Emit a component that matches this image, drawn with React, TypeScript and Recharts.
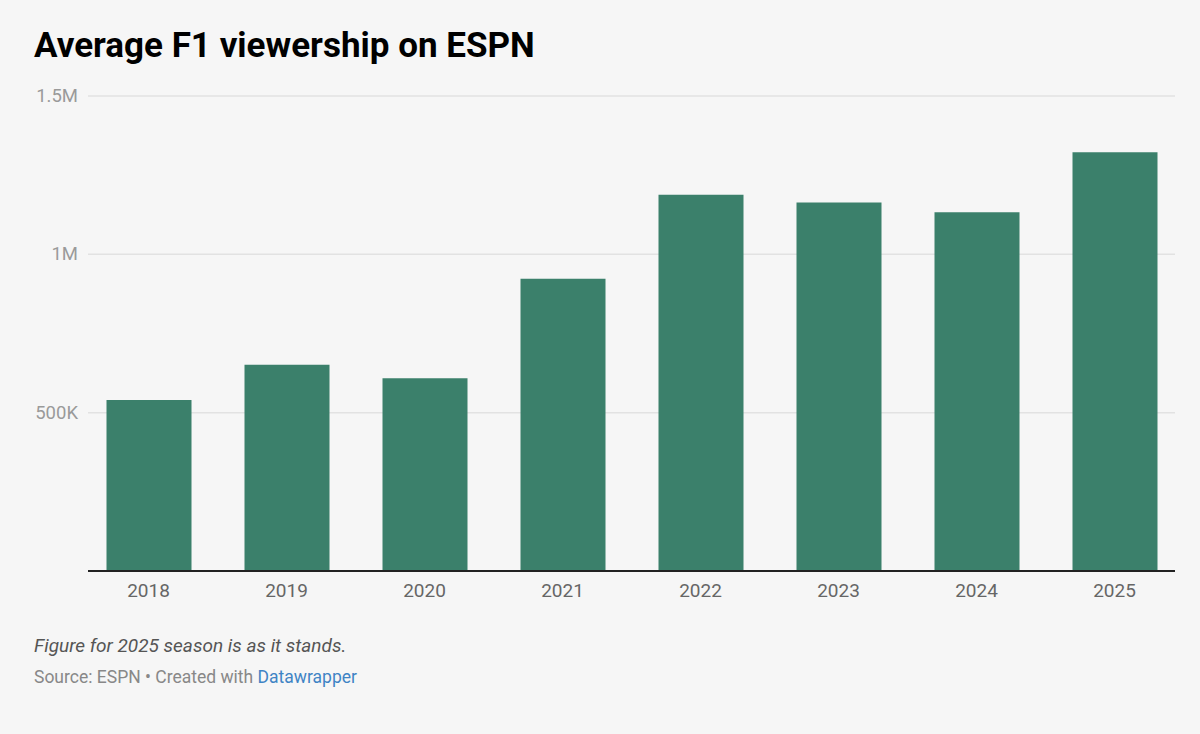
import React from "react";
import { Bar, BarChart, CartesianGrid, XAxis, YAxis } from "recharts";

const seasons = ["2018", "2019", "2020", "2021", "2022", "2023", "2024", "2025"];
const viewers = [540000, 651000, 609000, 923000, 1188000, 1164000, 1133000, 1322000];
const yTicks = [0, 500000, 1000000, 1500000];
const yTickLabels = ["", "500K", "1M", "1.5M"];

const data = seasons.map((season, i) => ({ season, viewers: viewers[i] }));

const FONT = "Roboto, 'Noto Sans', sans-serif";

function YTick(props: any) {
  const { y, payload } = props;
  const idx = yTicks.indexOf(payload.value);
  const label = idx >= 0 ? yTickLabels[idx] : "";
  if (!label) return null;
  return (
    <text
      x={78}
      y={y}
      textAnchor="end"
      dominantBaseline="central"
      fill="#9a9a9a"
      fontSize={18.5}
      fontFamily={FONT}
    >
      {label}
    </text>
  );
}

function XTick(props: any) {
  const { x, y, payload } = props;
  return (
    <text
      x={x}
      y={y + 11}
      textAnchor="middle"
      dominantBaseline="central"
      fill="#666"
      fontSize={19}
      fontFamily={FONT}
    >
      {payload.value}
    </text>
  );
}

export default function App() {
  return (
    <div
      style={{
        position: "absolute",
        left: 0,
        top: 0,
        width: 1200,
        height: 734,
        background: "#f6f6f6",
        fontFamily: FONT,
        overflow: "hidden",
      }}
    >
      <div
        style={{
          position: "absolute",
          left: 34,
          top: 24,
          fontSize: 35,
          fontWeight: 700,
          color: "#000",
          lineHeight: "44px",
          whiteSpace: "nowrap",
        }}
      >
        Average F1 viewership on ESPN
      </div>

      <div style={{ position: "absolute", left: 0, top: 0 }}>
        <BarChart
          width={1200}
          height={620}
          data={data}
          margin={{ top: 96, right: 25, left: 0, bottom: 9 }}
        >
          <CartesianGrid
            vertical={false}
            stroke="#e2e2e2"
            strokeWidth={1.5}
          />
          <XAxis
            dataKey="season"
            height={40}
            tickLine={false}
            axisLine={{ stroke: "#222", strokeWidth: 2 }}
            tick={<XTick />}
            padding={{ left: -8.5, right: -8.5 }}
            interval={0}
          />
          <YAxis
            width={88}
            domain={[0, 1500000]}
            ticks={yTicks}
            axisLine={false}
            tickLine={false}
            tick={<YTick />}
          />
          <Bar
            dataKey="viewers"
            fill="#3b806b"
            barSize={85}
            isAnimationActive={false}
          />
        </BarChart>
      </div>

      <div
        style={{
          position: "absolute",
          left: 34,
          top: 634,
          fontSize: 19,
          fontStyle: "italic",
          color: "#555",
          lineHeight: "24px",
          whiteSpace: "nowrap",
        }}
      >
        Figure for 2025 season is as it stands.
      </div>
      <div
        style={{
          position: "absolute",
          left: 34,
          top: 665,
          fontSize: 17.5,
          color: "#888",
          lineHeight: "24px",
          whiteSpace: "nowrap",
        }}
      >
        Source: ESPN • Created with{" "}
        <span style={{ color: "#3f84c5" }}>Datawrapper</span>
      </div>
    </div>
  );
}
